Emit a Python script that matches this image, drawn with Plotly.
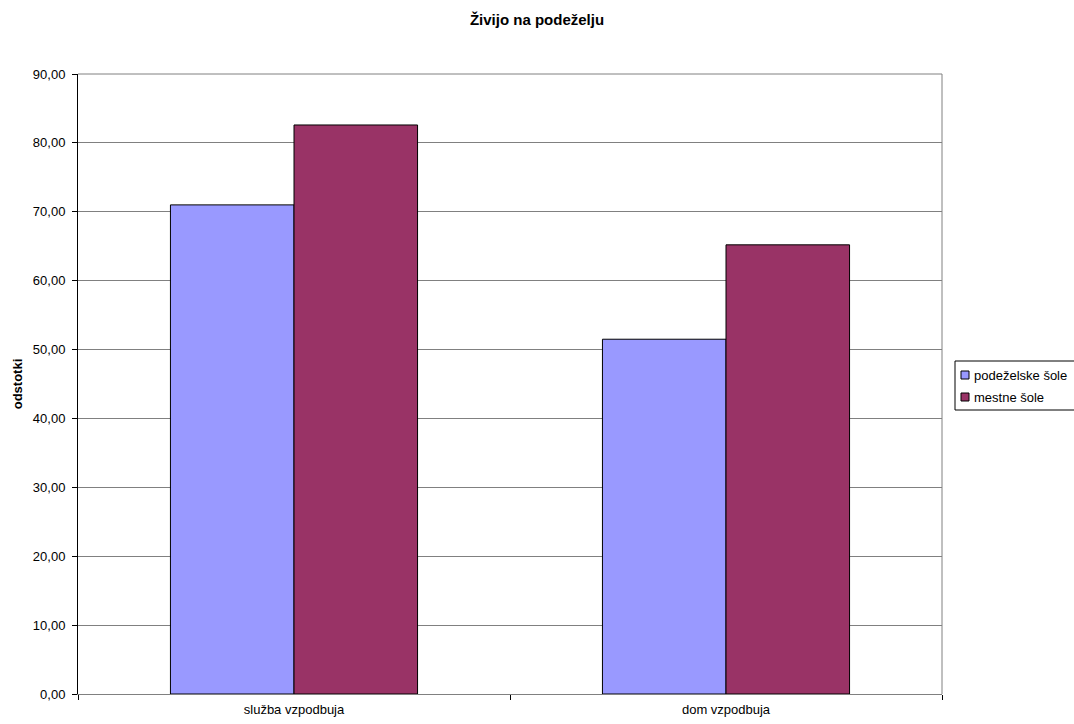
import plotly.graph_objects as go

categories = ["služba vzpodbuja", "dom vzpodbuja"]
podezelske = [71.0, 51.5]
mestne = [82.6, 65.2]
series_names = ["podeželske šole", "mestne šole"]
colors = ["#9999FF", "#993366"]

FONT = "Liberation Sans, Arial, sans-serif"
W, H = 1074, 724
L, R, T, B = 78, 942, 74, 694


def px(x):
    return (x - L) / (R - L)


def py(y):
    return (B - y) / (B - T)


fig = go.Figure()
for name, vals, col in zip(series_names, [podezelske, mestne], colors):
    fig.add_trace(go.Bar(
        x=categories, y=vals, name=name, showlegend=False,
        marker=dict(color=col, line=dict(color="#000000", width=1)),
    ))

fig.update_layout(
    width=W, height=H,
    margin=dict(l=L, r=W - R, t=T, b=H - B, autoexpand=False),
    paper_bgcolor="white", plot_bgcolor="white",
    barmode="group", bargap=0.428, bargroupgap=0,
    separators=", ",
    font=dict(family=FONT, size=13, color="#000000"),
    title=dict(text="<b>Živijo na podeželju</b>", x=0.5, xref="container", xanchor="center",
               y=1 - 20 / H, yanchor="middle", font=dict(size=15)),
    showlegend=False,
)
fig.update_xaxes(
    type="category", tickson="boundaries", ticks="outside", ticklen=5,
    tickcolor="#000000", showline=True, linecolor="#808080", linewidth=1,
    showgrid=False, tickfont=dict(size=13), ticklabelstandoff=3,
)
fig.update_yaxes(
    range=[0, 90], dtick=10, tickformat=".2f", ticks="outside", ticklen=5,
    tickcolor="#000000", showline=True, linecolor="#000000", linewidth=1,
    showgrid=True, gridcolor="#808080", gridwidth=1, zeroline=False,
    title=dict(text="<b>odstotki</b>", font=dict(size=13), standoff=7),
    tickfont=dict(size=13), ticklabelstandoff=4,
)
# right and top frame
fig.add_shape(type="line", xref="paper", yref="paper", x0=1, x1=1, y0=0, y1=1,
              line=dict(color="#808080", width=1))
fig.add_shape(type="line", xref="paper", yref="paper", x0=0, x1=1, y0=1, y1=1,
              line=dict(color="#808080", width=1))

# legend box (cut off at the right edge, as in the reference)
fig.add_shape(type="rect", xref="paper", yref="paper",
              x0=px(955), x1=px(1080), y0=py(410), y1=py(361),
              line=dict(color="#000000", width=1), fillcolor="white", layer="above")
row_y = [375, 397]
for name, col, yc in zip(series_names, colors, row_y):
    fig.add_shape(type="rect", xref="paper", yref="paper",
                  x0=px(961), x1=px(969), y0=py(yc + 4), y1=py(yc - 4),
                  line=dict(color="#000000", width=1), fillcolor=col, layer="above")
    fig.add_annotation(text=name, xref="paper", yref="paper", x=px(972), y=py(yc),
                       xanchor="left", yanchor="middle", showarrow=False,
                       font=dict(size=13, family=FONT, color="#000000"))

fig.write_html("out.html")
